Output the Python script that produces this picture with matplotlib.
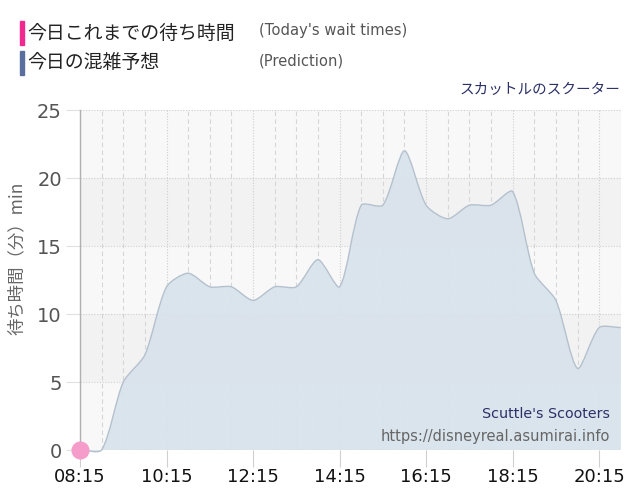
import matplotlib
matplotlib.use("Agg")
import matplotlib.pyplot as plt
from matplotlib.path import Path
from matplotlib.patches import PathPatch, Rectangle
import numpy as np

# ---- data ----
times = ["08:15", "08:45", "09:15", "09:45", "10:15", "10:45", "11:15", "11:45",
         "12:15", "12:45", "13:15", "13:45", "14:15", "14:45", "15:15", "15:45",
         "16:15", "16:45", "17:15", "17:45", "18:15", "18:45", "19:15", "19:45",
         "20:15", "20:45"]
prediction = [0, 0, 5, 7, 12, 13, 12, 12, 11, 12, 12, 14, 12, 18, 18, 22,
              18, 17, 18, 18, 19, 13, 11, 6, 9, 9]
today_times = ["08:15"]
today_values = [0]
tick_labels = ["08:15", "10:15", "12:15", "14:15", "16:15", "18:15", "20:15"]
y_ticks = [0, 5, 10, 15, 20, 25]


def to_min(t):
    h, m = t.split(":")
    return int(h) * 60 + int(m)


x = np.array([to_min(t) for t in times], dtype=float)
y = np.array(prediction, dtype=float)

FIG_W, FIG_H = 6.4, 5.0
AX_RECT = [0.125, 0.1, 0.845, 0.68]
x0, x1 = to_min("08:15"), to_min("20:45")
y0, y1 = 0, 25
sx = AX_RECT[2] * FIG_W * 100 / (x1 - x0)   # px per minute
sy = AX_RECT[3] * FIG_H * 100 / (y1 - y0)   # px per unit


def spline_path(xs, ys, tension=0.25):
    """Cardinal-style spline (cubic Bezier) through the data points."""
    n = len(xs)
    P = np.column_stack([xs * sx, ys * sy])
    prevc = [None] * n
    nextc = [None] * n
    for i in range(n):
        cur = P[i]
        prv = P[i - 1] if i > 0 else cur
        nxt = P[i + 1] if i < n - 1 else cur
        d01 = np.hypot(*(cur - prv))
        d12 = np.hypot(*(nxt - cur))
        tot = d01 + d12
        s01 = d01 / tot if tot else 0
        s12 = d12 / tot if tot else 0
        prevc[i] = cur - tension * s01 * (nxt - prv)
        nextc[i] = cur + tension * s12 * (nxt - prv)
    def back(p):
        return (p[0] / sx, p[1] / sy)
    verts = [(xs[0], ys[0])]
    codes = [Path.MOVETO]
    for i in range(1, n):
        verts += [back(nextc[i - 1]), back(prevc[i]), (xs[i], ys[i])]
        codes += [Path.CURVE4] * 3
    return verts, codes


fig = plt.figure(figsize=(FIG_W, FIG_H), dpi=100)
ax = fig.add_axes(AX_RECT)
ax.set_xlim(x0, x1)
ax.set_ylim(y0, y1)

# background bands
band_cols = ["#f8f8f8", "#f2f2f2"]
for k in range(5):
    ax.axhspan(k * 5, k * 5 + 5, color=band_cols[k % 2], zorder=0, lw=0)

# grid
for t in np.arange(x0, x1 + 1, 30):
    major = (t - x0) % 120 == 0
    ax.axvline(t, color="#d6d6d6" if not major else "#cfcfcf",
               lw=0.8, ls=(0, (4, 3)) if not major else (0, (1, 1.5)), zorder=1)
for v in y_ticks[1:]:
    ax.axhline(v, color="#cfcfcf", lw=0.8, ls=(0, (1, 1.5)), zorder=1)

# prediction area spline
verts, codes = spline_path(x, y)
fill_verts = verts + [(x[-1], 0), (x[0], 0), (x[0], y[0])]
fill_codes = codes + [Path.LINETO, Path.LINETO, Path.CLOSEPOLY]
ax.add_patch(PathPatch(Path(fill_verts, fill_codes), facecolor="#d9e3ec",
                       edgecolor="none", alpha=0.95, zorder=2, clip_on=False))
ax.add_patch(PathPatch(Path(verts, codes), facecolor="none",
                       edgecolor="#b4c1cd", lw=1.0, zorder=3, clip_on=False))

# today's series
tx = [to_min(t) for t in today_times]
ax.plot(tx, today_values, "o", color="#f59ccb", ms=12, zorder=5, clip_on=False)

# axes styling
for s in ["top", "right", "bottom"]:
    ax.spines[s].set_visible(False)
ax.spines["left"].set_color("#b0b0b0")
ax.spines["left"].set_linewidth(1.0)
ax.axhline(0, color="#cccccc", lw=0.8, ls=(0, (1, 1.5)), zorder=1)

ax.set_xticks([to_min(t) for t in tick_labels])
ax.set_xticklabels(tick_labels, fontsize=13, color="#111111",
                   family=["DejaVu Sans"])
ax.tick_params(axis="x", length=12, color="#d0d0d0", width=0.8, pad=1)
ax.set_yticks(y_ticks)
ax.set_yticklabels([str(v) for v in y_ticks], fontsize=14, color="#555555",
                   family=["DejaVu Sans"])
ax.tick_params(axis="y", length=10, color="#e0e0e0", width=0.8, pad=3)
ax.set_ylabel("待ち時間（分）min", fontsize=12.5, color="#666666",
              family=["Noto Sans CJK JP", "DejaVu Sans"])
ax.yaxis.set_label_coords(-0.10, 0.565)

# headers
jp = ["Noto Sans CJK JP", "DejaVu Sans"]
fig.patches.append(Rectangle((20 / 640, 1 - 45 / 500), 4 / 640, 24 / 500,
                             transform=fig.transFigure, color="#f02890"))
fig.patches.append(Rectangle((20 / 640, 1 - 75 / 500), 4 / 640, 24 / 500,
                             transform=fig.transFigure, color="#5a6f9e"))
fig.text(27 / 640, 1 - 33 / 500, "今日これまでの待ち時間", fontsize=13.6,
         family=jp, color="#222222", va="center")
fig.text(27 / 640, 1 - 63 / 500, "今日の混雑予想", fontsize=13.6,
         family=jp, color="#222222", va="center")
fig.text(259 / 640, 1 - 31 / 500, "(Today's wait times)", fontsize=10.6,
         family=["DejaVu Sans"], color="#555555", va="center")
fig.text(259 / 640, 1 - 61 / 500, "(Prediction)", fontsize=10.6,
         family=["DejaVu Sans"], color="#555555", va="center")
fig.text(620 / 640, 1 - 90 / 500, "スカットルのスクーター", fontsize=10.5,
         family=jp, color="#2b3168", va="center", ha="right")

# watermark
ax.text(0.98, 0.105, "Scuttle's Scooters", transform=ax.transAxes,
        fontsize=10.3, color="#2b3168", ha="right", va="center", zorder=6)
ax.text(0.98, 0.04, "https://disneyreal.asumirai.info", transform=ax.transAxes,
        fontsize=10.5, color="#666666", ha="right", va="center", zorder=6)

fig.savefig("out.png", dpi=100, facecolor="white")
